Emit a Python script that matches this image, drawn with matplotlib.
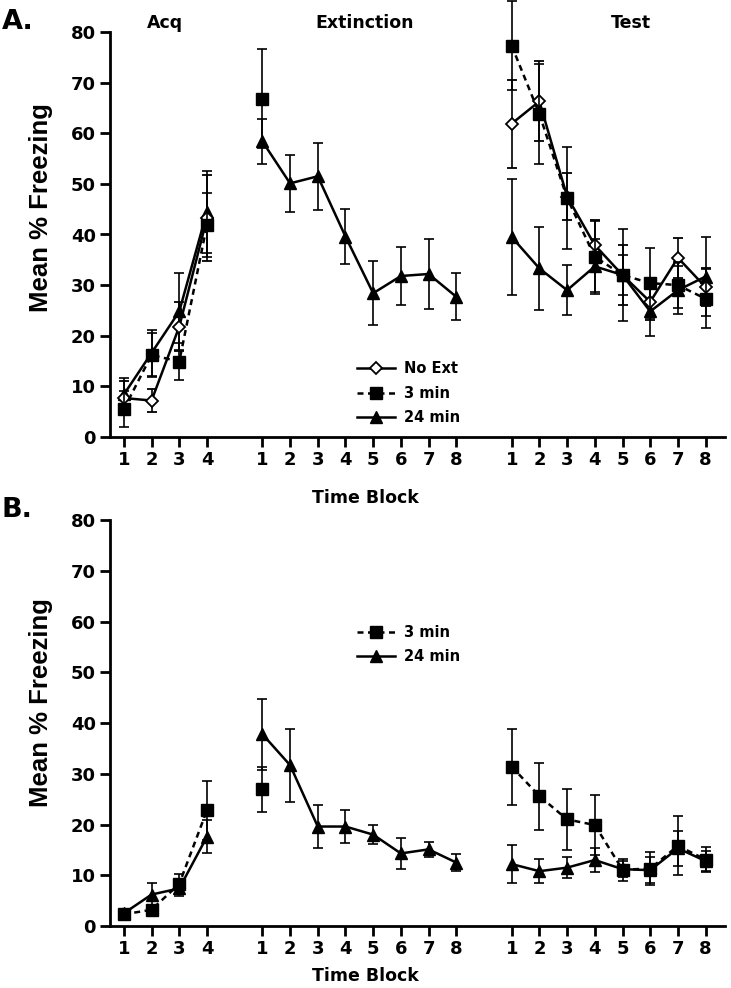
import numpy as np
import matplotlib.pyplot as plt
from matplotlib.lines import Line2D

# block labels for each phase
acq_blocks = [1, 2, 3, 4]
ext_blocks = [1, 2, 3, 4, 5, 6, 7, 8]
test_blocks = [1, 2, 3, 4, 5, 6, 7, 8]

# panel A (mean, sem)
a_acq_noext = [7.7, 7.2, 21.8, 43.2]
a_acq_noext_err = [3.3, 2.3, 4.9, 8.5]
a_acq_3 = [5.5, 16.2, 14.9, 41.9]
a_acq_3_err = [3.6, 4.4, 3.6, 6.3]
a_acq_24 = [8.4, 16.6, 24.8, 44.5]
a_acq_24_err = [3.2, 4.5, 7.6, 8.1]
a_ext_3 = [66.8]
a_ext_3_err = [9.8]
a_ext_24 = [58.4, 50.1, 51.5, 39.6, 28.4, 31.8, 32.2, 27.7]
a_ext_24_err = [4.5, 5.7, 6.6, 5.5, 6.3, 5.8, 7.0, 4.6]
a_test_noext = [61.9, 66.3, 47.5, 37.9, 32.0, 26.7, 35.4, 29.6]
a_test_noext_err = [8.7, 7.9, 4.6, 5.0, 6.0, 3.5, 4.0, 3.7]
a_test_3 = [77.3, 63.8, 47.2, 35.6, 32.0, 30.4, 30.0, 27.3]
a_test_3_err = [8.8, 9.8, 10.0, 7.0, 9.0, 6.9, 4.5, 5.8]
a_test_24 = [39.5, 33.3, 29.0, 33.7, 32.0, 24.8, 29.0, 31.7]
a_test_24_err = [11.4, 8.2, 5.0, 5.5, 4.0, 4.8, 4.8, 7.8]

# panel B
b_acq_3 = [2.3, 3.2, 8.3, 22.8]
b_acq_3_err = [0.8, 1.0, 2.0, 5.8]
b_acq_24 = [2.5, 6.2, 7.4, 17.6]
b_acq_24_err = [0.8, 2.2, 1.5, 3.3]
b_ext_3 = [26.9]
b_ext_3_err = [4.4]
b_ext_24 = [37.8, 31.7, 19.6, 19.6, 18.0, 14.3, 15.1, 12.5]
b_ext_24_err = [7.0, 7.2, 4.3, 3.3, 1.9, 3.0, 1.5, 1.6]
b_test_3 = [31.4, 25.6, 21.0, 19.9, 11.1, 11.3, 15.8, 13.1]
b_test_3_err = [7.5, 6.6, 6.0, 6.0, 2.2, 3.3, 5.8, 2.5]
b_test_24 = [12.2, 10.8, 11.5, 13.0, 11.2, 11.0, 15.3, 12.8]
b_test_24_err = [3.7, 2.4, 2.1, 2.4, 1.6, 2.5, 3.5, 2.0]

FONT = 'DejaVu Sans'
ACQ_OFF, EXT_OFF, TEST_OFF = 0, 5, 14

styles = {
    'noext': dict(marker='D', ms=6.5, mfc='white', mec='black', mew=1.3,
                  ls='-', zorder=4),
    '3': dict(marker='s', ms=8.5, mfc='black', mec='black',
              ls=(0, (2.4, 1.8)), zorder=5),
    '24': dict(marker='^', ms=9, mfc='black', mec='black', ls='-', zorder=3),
}


def draw(ax, blocks, off, y, err, key):
    st = dict(styles[key])
    z = st.pop('zorder')
    x = np.array(blocks[:len(y)]) + off
    ax.errorbar(x, y, yerr=err, color='black', lw=1.8, elinewidth=1.2,
                capsize=3.5, capthick=1.2, clip_on=False, zorder=z, **st)


def setup(ax, label_y):
    ax.set_xlim(0.5, 22.7)
    ax.set_ylim(0, 80)
    for s in ['top', 'right']:
        ax.spines[s].set_visible(False)
    for s in ['left', 'bottom']:
        ax.spines[s].set_linewidth(2)
    ticks = [b + ACQ_OFF for b in acq_blocks] + [b + EXT_OFF for b in ext_blocks] + \
        [b + TEST_OFF for b in test_blocks]
    labels = [str(b) for b in acq_blocks + ext_blocks + test_blocks]
    ax.set_xticks(ticks)
    ax.set_xticklabels(labels)
    ax.set_yticks(np.arange(0, 81, 10))
    ax.tick_params(direction='out', length=7, width=2, labelsize=13, pad=3)
    for lab in ax.get_xticklabels() + ax.get_yticklabels():
        lab.set_fontweight('bold')
        lab.set_family(FONT)
    ax.set_xlabel('Time Block', fontsize=12.5, fontweight='bold', family=FONT)
    ax.xaxis.set_label_coords(0.415, label_y)


fig = plt.figure(figsize=(7.31, 9.88), dpi=100)
axA = fig.add_axes([110 / 731, 1 - 437 / 988, 615 / 731, 405 / 988])
axB = fig.add_axes([110 / 731, 1 - 926 / 988, 615 / 731, 406 / 988])

# panel A
draw(axA, acq_blocks, ACQ_OFF, a_acq_noext, a_acq_noext_err, 'noext')
draw(axA, acq_blocks, ACQ_OFF, a_acq_3, a_acq_3_err, '3')
draw(axA, acq_blocks, ACQ_OFF, a_acq_24, a_acq_24_err, '24')
draw(axA, ext_blocks, EXT_OFF, a_ext_3, a_ext_3_err, '3')
draw(axA, ext_blocks, EXT_OFF, a_ext_24, a_ext_24_err, '24')
draw(axA, test_blocks, TEST_OFF, a_test_noext, a_test_noext_err, 'noext')
draw(axA, test_blocks, TEST_OFF, a_test_3, a_test_3_err, '3')
draw(axA, test_blocks, TEST_OFF, a_test_24, a_test_24_err, '24')
setup(axA, -0.128)
for txt, xpos in [('Acq', 2.5), ('Extinction', 9.7), ('Test', 19.3)]:
    axA.text(xpos, 81.8, txt, ha='center', va='center', fontsize=12.5,
             fontweight='bold', family=FONT)

# panel B
draw(axB, acq_blocks, ACQ_OFF, b_acq_3, b_acq_3_err, '3')
draw(axB, acq_blocks, ACQ_OFF, b_acq_24, b_acq_24_err, '24')
draw(axB, ext_blocks, EXT_OFF, b_ext_3, b_ext_3_err, '3')
draw(axB, ext_blocks, EXT_OFF, b_ext_24, b_ext_24_err, '24')
draw(axB, test_blocks, TEST_OFF, b_test_3, b_test_3_err, '3')
draw(axB, test_blocks, TEST_OFF, b_test_24, b_test_24_err, '24')
setup(axB, -0.102)


def handle(key):
    st = dict(styles[key])
    st.pop('zorder')
    return Line2D([], [], color='black', lw=1.8, **st)


legA = axA.legend([handle('noext'), handle('3'), handle('24')],
                  ['No Ext', '3 min', '24 min'], frameon=False,
                  loc='upper left', bbox_to_anchor=(0.39, 0.205),
                  handlelength=2.6, handletextpad=0.6, labelspacing=0.65,
                  borderpad=0, prop=dict(family=FONT, weight='bold', size=10.5))
legB = axB.legend([handle('3'), handle('24')], ['3 min', '24 min'],
                  frameon=False, loc='upper left', bbox_to_anchor=(0.39, 0.76),
                  handlelength=2.6, handletextpad=0.6, labelspacing=0.65,
                  borderpad=0, prop=dict(family=FONT, weight='bold', size=10.5))

fig.text(41 / 731, 1 - 208 / 988, 'Mean % Freezing', rotation=90, ha='center',
         va='center', fontsize=18.5, fontweight='bold', family='Liberation Sans')
fig.text(41 / 731, 1 - 703 / 988, 'Mean % Freezing', rotation=90, ha='center',
         va='center', fontsize=18.5, fontweight='bold', family='Liberation Sans')
fig.text(2 / 731, 1 - 22 / 988, 'A.', ha='left', va='center', fontsize=19.5,
         fontweight='bold', family=FONT)
fig.text(2 / 731, 1 - 510 / 988, 'B.', ha='left', va='center', fontsize=19.5,
         fontweight='bold', family=FONT)

fig.savefig('out.png', dpi=100)
